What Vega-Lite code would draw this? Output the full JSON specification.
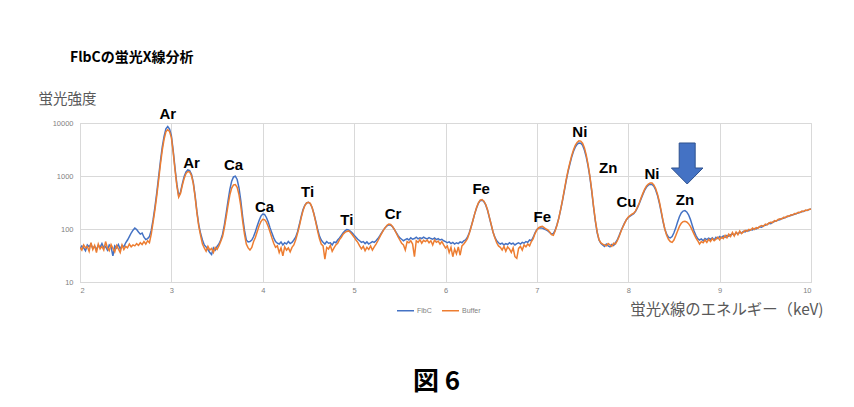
{
"$schema":"https://vega.github.io/schema/vega-lite/v6.json",
"autosize":{"type":"none"},
"padding":{"left":80,"top":123,"right":43,"bottom":125},
"width":731,"height":159,
"background":"white",
"title":{"text":"FlbCの蛍光X線分析","anchor":"start","frame":"group","dx":-10,"offset":26,"font":"Noto Sans CJK JP","fontSize":14,"fontWeight":"bold","color":"#000000"},
"datasets":{
"spec":[
{"e":2.00,"FlbC":42,"Buffer":45},{"e":2.02,"FlbC":48,"Buffer":40},{"e":2.04,"FlbC":44,"Buffer":50},{"e":2.06,"FlbC":39,"Buffer":44},{"e":2.08,"FlbC":50,"Buffer":47},{"e":2.10,"FlbC":46,"Buffer":38},{"e":2.12,"FlbC":52,"Buffer":55},{"e":2.14,"FlbC":43,"Buffer":41},{"e":2.16,"FlbC":47,"Buffer":49},{"e":2.18,"FlbC":41,"Buffer":36},
{"e":2.20,"FlbC":49,"Buffer":52},{"e":2.22,"FlbC":45,"Buffer":42},{"e":2.24,"FlbC":53,"Buffer":47},{"e":2.26,"FlbC":44,"Buffer":40},{"e":2.28,"FlbC":47,"Buffer":58},{"e":2.30,"FlbC":40,"Buffer":44},{"e":2.32,"FlbC":50,"Buffer":39},{"e":2.34,"FlbC":46,"Buffer":51},{"e":2.36,"FlbC":31,"Buffer":43},{"e":2.38,"FlbC":48,"Buffer":37},
{"e":2.40,"FlbC":44,"Buffer":49},{"e":2.42,"FlbC":51,"Buffer":42},{"e":2.44,"FlbC":42,"Buffer":36},{"e":2.46,"FlbC":49,"Buffer":50},{"e":2.48,"FlbC":46,"Buffer":41},{"e":2.50,"FlbC":55,"Buffer":47},{"e":2.52,"FlbC":62,"Buffer":44},{"e":2.54,"FlbC":72,"Buffer":52},{"e":2.56,"FlbC":84,"Buffer":46},{"e":2.58,"FlbC":95,"Buffer":50},
{"e":2.60,"FlbC":104,"Buffer":48},{"e":2.62,"FlbC":98,"Buffer":53},{"e":2.64,"FlbC":88,"Buffer":49},{"e":2.66,"FlbC":80,"Buffer":55},{"e":2.68,"FlbC":84,"Buffer":51},{"e":2.70,"FlbC":70,"Buffer":58},{"e":2.72,"FlbC":63,"Buffer":52},{"e":2.74,"FlbC":66,"Buffer":60},{"e":2.76,"FlbC":72,"Buffer":55},{"e":2.78,"FlbC":95,"Buffer":80},
{"e":2.80,"FlbC":150,"Buffer":135},{"e":2.82,"FlbC":260,"Buffer":230},{"e":2.84,"FlbC":480,"Buffer":420},{"e":2.86,"FlbC":950,"Buffer":830},{"e":2.88,"FlbC":1900,"Buffer":1650},{"e":2.90,"FlbC":3500,"Buffer":3050},{"e":2.92,"FlbC":5600,"Buffer":4900},{"e":2.94,"FlbC":7800,"Buffer":6800},{"e":2.96,"FlbC":8600,"Buffer":7500},{"e":2.98,"FlbC":7700,"Buffer":6900},
{"e":3.00,"FlbC":5800,"Buffer":5300},{"e":3.02,"FlbC":3000,"Buffer":2800},{"e":3.04,"FlbC":1400,"Buffer":1300},{"e":3.06,"FlbC":700,"Buffer":650},{"e":3.08,"FlbC":420,"Buffer":400},{"e":3.10,"FlbC":500,"Buffer":470},{"e":3.12,"FlbC":720,"Buffer":670},{"e":3.14,"FlbC":980,"Buffer":900},{"e":3.16,"FlbC":1200,"Buffer":1110},{"e":3.18,"FlbC":1300,"Buffer":1210},
{"e":3.20,"FlbC":1260,"Buffer":1190},{"e":3.22,"FlbC":1080,"Buffer":1020},{"e":3.24,"FlbC":760,"Buffer":720},{"e":3.26,"FlbC":420,"Buffer":400},{"e":3.28,"FlbC":210,"Buffer":200},{"e":3.30,"FlbC":120,"Buffer":112},{"e":3.32,"FlbC":82,"Buffer":75},{"e":3.34,"FlbC":62,"Buffer":52},{"e":3.36,"FlbC":50,"Buffer":44},{"e":3.38,"FlbC":46,"Buffer":38},
{"e":3.40,"FlbC":41,"Buffer":47},{"e":3.42,"FlbC":36,"Buffer":40},{"e":3.44,"FlbC":33,"Buffer":43},{"e":3.46,"FlbC":44,"Buffer":36},{"e":3.48,"FlbC":40,"Buffer":45},{"e":3.50,"FlbC":47,"Buffer":41},{"e":3.52,"FlbC":52,"Buffer":48},{"e":3.54,"FlbC":62,"Buffer":58},{"e":3.56,"FlbC":80,"Buffer":72},{"e":3.58,"FlbC":120,"Buffer":105},
{"e":3.60,"FlbC":200,"Buffer":170},{"e":3.62,"FlbC":340,"Buffer":280},{"e":3.64,"FlbC":560,"Buffer":440},{"e":3.66,"FlbC":800,"Buffer":590},{"e":3.68,"FlbC":960,"Buffer":680},{"e":3.70,"FlbC":990,"Buffer":690},{"e":3.72,"FlbC":860,"Buffer":610},{"e":3.74,"FlbC":600,"Buffer":440},{"e":3.76,"FlbC":340,"Buffer":270},{"e":3.78,"FlbC":170,"Buffer":140},
{"e":3.80,"FlbC":95,"Buffer":80},{"e":3.82,"FlbC":62,"Buffer":52},{"e":3.84,"FlbC":57,"Buffer":44},{"e":3.86,"FlbC":58,"Buffer":40},{"e":3.88,"FlbC":62,"Buffer":45},{"e":3.90,"FlbC":72,"Buffer":58},{"e":3.92,"FlbC":90,"Buffer":70},{"e":3.94,"FlbC":115,"Buffer":90},{"e":3.96,"FlbC":145,"Buffer":115},{"e":3.98,"FlbC":175,"Buffer":138},
{"e":4.00,"FlbC":192,"Buffer":152},{"e":4.02,"FlbC":188,"Buffer":150},{"e":4.04,"FlbC":165,"Buffer":135},{"e":4.06,"FlbC":135,"Buffer":112},{"e":4.08,"FlbC":105,"Buffer":88},{"e":4.10,"FlbC":84,"Buffer":68},{"e":4.12,"FlbC":68,"Buffer":54},{"e":4.14,"FlbC":58,"Buffer":45},{"e":4.16,"FlbC":54,"Buffer":48},{"e":4.18,"FlbC":52,"Buffer":36},
{"e":4.20,"FlbC":57,"Buffer":44},{"e":4.22,"FlbC":50,"Buffer":31},{"e":4.24,"FlbC":55,"Buffer":46},{"e":4.26,"FlbC":52,"Buffer":40},{"e":4.28,"FlbC":58,"Buffer":44},{"e":4.30,"FlbC":53,"Buffer":37},{"e":4.32,"FlbC":56,"Buffer":45},{"e":4.34,"FlbC":62,"Buffer":50},{"e":4.36,"FlbC":70,"Buffer":62},{"e":4.38,"FlbC":88,"Buffer":82},
{"e":4.40,"FlbC":120,"Buffer":112},{"e":4.42,"FlbC":170,"Buffer":160},{"e":4.44,"FlbC":230,"Buffer":220},{"e":4.46,"FlbC":280,"Buffer":275},{"e":4.48,"FlbC":310,"Buffer":310},{"e":4.50,"FlbC":318,"Buffer":320},{"e":4.52,"FlbC":300,"Buffer":305},{"e":4.54,"FlbC":255,"Buffer":255},{"e":4.56,"FlbC":195,"Buffer":190},{"e":4.58,"FlbC":140,"Buffer":135},
{"e":4.60,"FlbC":100,"Buffer":92},{"e":4.62,"FlbC":74,"Buffer":66},{"e":4.64,"FlbC":62,"Buffer":52},{"e":4.66,"FlbC":56,"Buffer":48},{"e":4.68,"FlbC":52,"Buffer":27},{"e":4.70,"FlbC":58,"Buffer":45},{"e":4.72,"FlbC":54,"Buffer":42},{"e":4.74,"FlbC":55,"Buffer":49},{"e":4.76,"FlbC":50,"Buffer":38},{"e":4.78,"FlbC":57,"Buffer":44},
{"e":4.80,"FlbC":55,"Buffer":50},{"e":4.82,"FlbC":62,"Buffer":54},{"e":4.84,"FlbC":68,"Buffer":63},{"e":4.86,"FlbC":76,"Buffer":70},{"e":4.88,"FlbC":85,"Buffer":80},{"e":4.90,"FlbC":92,"Buffer":86},{"e":4.92,"FlbC":98,"Buffer":90},{"e":4.94,"FlbC":96,"Buffer":92},{"e":4.96,"FlbC":90,"Buffer":86},{"e":4.98,"FlbC":84,"Buffer":78},
{"e":5.00,"FlbC":76,"Buffer":70},{"e":5.02,"FlbC":70,"Buffer":62},{"e":5.04,"FlbC":64,"Buffer":56},{"e":5.06,"FlbC":60,"Buffer":48},{"e":5.08,"FlbC":56,"Buffer":42},{"e":5.10,"FlbC":58,"Buffer":47},{"e":5.12,"FlbC":53,"Buffer":39},{"e":5.14,"FlbC":57,"Buffer":45},{"e":5.16,"FlbC":52,"Buffer":41},{"e":5.18,"FlbC":55,"Buffer":48},
{"e":5.20,"FlbC":58,"Buffer":40},{"e":5.22,"FlbC":56,"Buffer":46},{"e":5.24,"FlbC":60,"Buffer":52},{"e":5.26,"FlbC":66,"Buffer":60},{"e":5.28,"FlbC":74,"Buffer":70},{"e":5.30,"FlbC":84,"Buffer":82},{"e":5.32,"FlbC":95,"Buffer":94},{"e":5.34,"FlbC":106,"Buffer":106},{"e":5.36,"FlbC":115,"Buffer":118},{"e":5.38,"FlbC":120,"Buffer":124},
{"e":5.40,"FlbC":118,"Buffer":122},{"e":5.42,"FlbC":110,"Buffer":112},{"e":5.44,"FlbC":98,"Buffer":98},{"e":5.46,"FlbC":86,"Buffer":84},{"e":5.48,"FlbC":76,"Buffer":72},{"e":5.50,"FlbC":68,"Buffer":62},{"e":5.52,"FlbC":64,"Buffer":54},{"e":5.54,"FlbC":60,"Buffer":50},{"e":5.56,"FlbC":63,"Buffer":40},{"e":5.58,"FlbC":66,"Buffer":58},
{"e":5.60,"FlbC":62,"Buffer":55},{"e":5.62,"FlbC":68,"Buffer":60},{"e":5.64,"FlbC":64,"Buffer":52},{"e":5.66,"FlbC":66,"Buffer":30},{"e":5.68,"FlbC":70,"Buffer":60},{"e":5.70,"FlbC":65,"Buffer":56},{"e":5.72,"FlbC":68,"Buffer":63},{"e":5.74,"FlbC":66,"Buffer":54},{"e":5.76,"FlbC":70,"Buffer":61},{"e":5.78,"FlbC":67,"Buffer":58},
{"e":5.80,"FlbC":65,"Buffer":62},{"e":5.82,"FlbC":69,"Buffer":55},{"e":5.84,"FlbC":66,"Buffer":60},{"e":5.86,"FlbC":64,"Buffer":50},{"e":5.88,"FlbC":68,"Buffer":62},{"e":5.90,"FlbC":63,"Buffer":56},{"e":5.92,"FlbC":66,"Buffer":59},{"e":5.94,"FlbC":62,"Buffer":52},{"e":5.96,"FlbC":64,"Buffer":58},{"e":5.98,"FlbC":60,"Buffer":50},
{"e":6.00,"FlbC":58,"Buffer":44},{"e":6.02,"FlbC":55,"Buffer":48},{"e":6.04,"FlbC":57,"Buffer":36},{"e":6.06,"FlbC":53,"Buffer":45},{"e":6.08,"FlbC":56,"Buffer":30},{"e":6.10,"FlbC":52,"Buffer":42},{"e":6.12,"FlbC":55,"Buffer":34},{"e":6.14,"FlbC":53,"Buffer":46},{"e":6.16,"FlbC":57,"Buffer":32},{"e":6.18,"FlbC":55,"Buffer":48},
{"e":6.20,"FlbC":60,"Buffer":52},{"e":6.22,"FlbC":62,"Buffer":58},{"e":6.24,"FlbC":70,"Buffer":66},{"e":6.26,"FlbC":85,"Buffer":82},{"e":6.28,"FlbC":110,"Buffer":108},{"e":6.30,"FlbC":145,"Buffer":145},{"e":6.32,"FlbC":195,"Buffer":195},{"e":6.34,"FlbC":250,"Buffer":255},{"e":6.36,"FlbC":305,"Buffer":310},{"e":6.38,"FlbC":345,"Buffer":350},
{"e":6.40,"FlbC":350,"Buffer":358},{"e":6.42,"FlbC":330,"Buffer":335},{"e":6.44,"FlbC":285,"Buffer":290},{"e":6.46,"FlbC":225,"Buffer":230},{"e":6.48,"FlbC":165,"Buffer":168},{"e":6.50,"FlbC":120,"Buffer":122},{"e":6.52,"FlbC":88,"Buffer":88},{"e":6.54,"FlbC":70,"Buffer":68},{"e":6.56,"FlbC":60,"Buffer":55},{"e":6.58,"FlbC":55,"Buffer":48},
{"e":6.60,"FlbC":52,"Buffer":45},{"e":6.62,"FlbC":54,"Buffer":40},{"e":6.64,"FlbC":50,"Buffer":47},{"e":6.66,"FlbC":53,"Buffer":38},{"e":6.68,"FlbC":51,"Buffer":46},{"e":6.70,"FlbC":55,"Buffer":42},{"e":6.72,"FlbC":52,"Buffer":36},{"e":6.74,"FlbC":54,"Buffer":44},{"e":6.76,"FlbC":50,"Buffer":30},{"e":6.78,"FlbC":53,"Buffer":28},
{"e":6.80,"FlbC":55,"Buffer":43},{"e":6.82,"FlbC":52,"Buffer":47},{"e":6.84,"FlbC":56,"Buffer":40},{"e":6.86,"FlbC":54,"Buffer":50},{"e":6.88,"FlbC":58,"Buffer":46},{"e":6.90,"FlbC":56,"Buffer":52},{"e":6.92,"FlbC":62,"Buffer":48},{"e":6.94,"FlbC":60,"Buffer":58},{"e":6.96,"FlbC":70,"Buffer":66},{"e":6.98,"FlbC":85,"Buffer":82},
{"e":7.00,"FlbC":98,"Buffer":96},{"e":7.02,"FlbC":104,"Buffer":106},{"e":7.04,"FlbC":106,"Buffer":110},{"e":7.06,"FlbC":104,"Buffer":112},{"e":7.08,"FlbC":100,"Buffer":106},{"e":7.10,"FlbC":96,"Buffer":100},{"e":7.12,"FlbC":92,"Buffer":96},{"e":7.14,"FlbC":86,"Buffer":88},{"e":7.16,"FlbC":80,"Buffer":78},{"e":7.18,"FlbC":82,"Buffer":76},
{"e":7.20,"FlbC":95,"Buffer":92},{"e":7.22,"FlbC":120,"Buffer":118},{"e":7.24,"FlbC":160,"Buffer":160},{"e":7.26,"FlbC":230,"Buffer":235},{"e":7.28,"FlbC":340,"Buffer":350},{"e":7.30,"FlbC":520,"Buffer":540},{"e":7.32,"FlbC":800,"Buffer":840},{"e":7.34,"FlbC":1180,"Buffer":1250},{"e":7.36,"FlbC":1650,"Buffer":1750},{"e":7.38,"FlbC":2250,"Buffer":2400},
{"e":7.40,"FlbC":2900,"Buffer":3100},{"e":7.42,"FlbC":3500,"Buffer":3800},{"e":7.44,"FlbC":3950,"Buffer":4300},{"e":7.46,"FlbC":4200,"Buffer":4600},{"e":7.48,"FlbC":4150,"Buffer":4550},{"e":7.50,"FlbC":3800,"Buffer":4150},{"e":7.52,"FlbC":3100,"Buffer":3400},{"e":7.54,"FlbC":2300,"Buffer":2500},{"e":7.56,"FlbC":1550,"Buffer":1650},{"e":7.58,"FlbC":950,"Buffer":1000},
{"e":7.60,"FlbC":520,"Buffer":550},{"e":7.62,"FlbC":260,"Buffer":270},{"e":7.64,"FlbC":140,"Buffer":145},{"e":7.66,"FlbC":85,"Buffer":88},{"e":7.68,"FlbC":62,"Buffer":63},{"e":7.70,"FlbC":54,"Buffer":55},{"e":7.72,"FlbC":50,"Buffer":52},{"e":7.74,"FlbC":47,"Buffer":50},{"e":7.76,"FlbC":52,"Buffer":48},{"e":7.78,"FlbC":48,"Buffer":53},
{"e":7.80,"FlbC":46,"Buffer":50},{"e":7.82,"FlbC":51,"Buffer":47},{"e":7.84,"FlbC":49,"Buffer":54},{"e":7.86,"FlbC":55,"Buffer":52},{"e":7.88,"FlbC":62,"Buffer":60},{"e":7.90,"FlbC":75,"Buffer":72},{"e":7.92,"FlbC":92,"Buffer":90},{"e":7.94,"FlbC":110,"Buffer":108},{"e":7.96,"FlbC":130,"Buffer":128},{"e":7.98,"FlbC":150,"Buffer":150},
{"e":8.00,"FlbC":165,"Buffer":168},{"e":8.02,"FlbC":175,"Buffer":180},{"e":8.04,"FlbC":185,"Buffer":190},{"e":8.06,"FlbC":195,"Buffer":198},{"e":8.08,"FlbC":215,"Buffer":220},{"e":8.10,"FlbC":250,"Buffer":258},{"e":8.12,"FlbC":300,"Buffer":310},{"e":8.14,"FlbC":370,"Buffer":385},{"e":8.16,"FlbC":450,"Buffer":470},{"e":8.18,"FlbC":540,"Buffer":565},
{"e":8.20,"FlbC":620,"Buffer":650},{"e":8.22,"FlbC":670,"Buffer":705},{"e":8.24,"FlbC":700,"Buffer":740},{"e":8.26,"FlbC":690,"Buffer":735},{"e":8.28,"FlbC":640,"Buffer":680},{"e":8.30,"FlbC":545,"Buffer":580},{"e":8.32,"FlbC":430,"Buffer":455},{"e":8.34,"FlbC":310,"Buffer":330},{"e":8.36,"FlbC":210,"Buffer":222},{"e":8.38,"FlbC":140,"Buffer":145},
{"e":8.40,"FlbC":100,"Buffer":100},{"e":8.42,"FlbC":80,"Buffer":76},{"e":8.44,"FlbC":70,"Buffer":64},{"e":8.46,"FlbC":68,"Buffer":58},{"e":8.48,"FlbC":72,"Buffer":56},{"e":8.50,"FlbC":85,"Buffer":62},{"e":8.52,"FlbC":105,"Buffer":75},{"e":8.54,"FlbC":135,"Buffer":92},{"e":8.56,"FlbC":170,"Buffer":112},{"e":8.58,"FlbC":200,"Buffer":128},
{"e":8.60,"FlbC":218,"Buffer":138},{"e":8.62,"FlbC":222,"Buffer":140},{"e":8.64,"FlbC":210,"Buffer":136},{"e":8.66,"FlbC":185,"Buffer":126},{"e":8.68,"FlbC":152,"Buffer":112},{"e":8.70,"FlbC":118,"Buffer":95},{"e":8.72,"FlbC":92,"Buffer":80},{"e":8.74,"FlbC":76,"Buffer":68},{"e":8.76,"FlbC":66,"Buffer":60},{"e":8.78,"FlbC":62,"Buffer":52},
{"e":8.80,"FlbC":65,"Buffer":58},{"e":8.82,"FlbC":60,"Buffer":55},{"e":8.84,"FlbC":66,"Buffer":62},{"e":8.86,"FlbC":63,"Buffer":56},{"e":8.88,"FlbC":67,"Buffer":64},{"e":8.90,"FlbC":64,"Buffer":58},{"e":8.92,"FlbC":68,"Buffer":66},{"e":8.94,"FlbC":62,"Buffer":60},{"e":8.96,"FlbC":70,"Buffer":64},{"e":8.98,"FlbC":66,"Buffer":70},
{"e":9.00,"FlbC":72,"Buffer":62},{"e":9.02,"FlbC":68,"Buffer":70},{"e":9.04,"FlbC":74,"Buffer":66},{"e":9.06,"FlbC":70,"Buffer":76},{"e":9.08,"FlbC":76,"Buffer":68},{"e":9.10,"FlbC":73,"Buffer":80},{"e":9.12,"FlbC":78,"Buffer":72},{"e":9.14,"FlbC":80,"Buffer":86},{"e":9.16,"FlbC":77,"Buffer":74},{"e":9.18,"FlbC":84,"Buffer":88},
{"e":9.20,"FlbC":82,"Buffer":78},{"e":9.22,"FlbC":86,"Buffer":92},{"e":9.24,"FlbC":84,"Buffer":82},{"e":9.26,"FlbC":90,"Buffer":88},{"e":9.28,"FlbC":88,"Buffer":94},{"e":9.30,"FlbC":94,"Buffer":90},{"e":9.32,"FlbC":92,"Buffer":98},{"e":9.34,"FlbC":98,"Buffer":95},{"e":9.36,"FlbC":96,"Buffer":104},{"e":9.38,"FlbC":102,"Buffer":98},
{"e":9.40,"FlbC":100,"Buffer":106},{"e":9.42,"FlbC":106,"Buffer":104},{"e":9.44,"FlbC":110,"Buffer":112},{"e":9.46,"FlbC":108,"Buffer":116},{"e":9.48,"FlbC":116,"Buffer":112},{"e":9.50,"FlbC":118,"Buffer":124},{"e":9.52,"FlbC":122,"Buffer":120},{"e":9.54,"FlbC":128,"Buffer":130},{"e":9.56,"FlbC":126,"Buffer":134},{"e":9.58,"FlbC":134,"Buffer":132},
{"e":9.60,"FlbC":138,"Buffer":144},{"e":9.62,"FlbC":142,"Buffer":140},{"e":9.64,"FlbC":148,"Buffer":152},{"e":9.66,"FlbC":150,"Buffer":156},{"e":9.68,"FlbC":158,"Buffer":154},{"e":9.70,"FlbC":160,"Buffer":166},{"e":9.72,"FlbC":166,"Buffer":164},{"e":9.74,"FlbC":170,"Buffer":176},{"e":9.76,"FlbC":176,"Buffer":174},{"e":9.78,"FlbC":180,"Buffer":186},
{"e":9.80,"FlbC":186,"Buffer":184},{"e":9.82,"FlbC":190,"Buffer":196},{"e":9.84,"FlbC":196,"Buffer":194},{"e":9.86,"FlbC":200,"Buffer":206},{"e":9.88,"FlbC":206,"Buffer":204},{"e":9.90,"FlbC":212,"Buffer":218},{"e":9.92,"FlbC":216,"Buffer":214},{"e":9.94,"FlbC":222,"Buffer":228},{"e":9.96,"FlbC":226,"Buffer":224},{"e":9.98,"FlbC":232,"Buffer":236},
{"e":10.00,"FlbC":238,"Buffer":235}
],
"labels":[
{"e":2.96,"v":14800,"t":"Ar"},{"e":3.22,"v":1758,"t":"Ar"},{"e":3.68,"v":1600,"t":"Ca"},{"e":4.02,"v":263,"t":"Ca"},{"e":4.49,"v":503,"t":"Ti"},{"e":4.92,"v":145,"t":"Ti"},{"e":5.425,"v":196,"t":"Cr"},{"e":6.39,"v":562,"t":"Fe"},{"e":7.06,"v":170,"t":"Fe"},{"e":7.47,"v":6820,"t":"Ni"},{"e":7.78,"v":1410,"t":"Zn"},{"e":7.98,"v":326,"t":"Cu"},{"e":8.26,"v":1114,"t":"Ni"},{"e":8.62,"v":352,"t":"Zn"}
],
"arrow":[{"e":8.645,"v":1722}]
},
"layer":[
{
"data":{"name":"spec"},
"transform":[{"fold":["FlbC","Buffer"],"as":["series","v"]}],
"mark":{"type":"line","strokeWidth":1.5,"clip":true},
"encoding":{
"x":{"field":"e","type":"quantitative","scale":{"domain":[2,10],"nice":false},
"axis":{"title":"蛍光X線のエネルギー（keV)","values":[2,3,4,5,6,7,8,9,10],"format":"d","labelFont":"Liberation Sans","labelFontSize":7.5,"labelColor":"#7F7F7F","labelPadding":4,"ticks":false,"domainColor":"#D9D9D9","gridColor":"#D9D9D9","titleFont":"Noto Sans CJK JP","titleFontSize":15.4,"titleFontWeight":"normal","titleColor":"#595959","titleAnchor":"end","titleAlign":"right","titleBaseline":"middle","titleX":743,"titleY":27}},
"y":{"field":"v","type":"quantitative","scale":{"type":"log","domain":[10,10000],"nice":false},
"axis":{"title":"蛍光強度","orient":"left","values":[10,100,1000,10000],"format":"d","labelFont":"Liberation Sans","labelFontSize":7.5,"labelColor":"#7F7F7F","labelPadding":7,"ticks":false,"domainColor":"#D9D9D9","gridColor":"#D9D9D9","titleFont":"Noto Sans CJK JP","titleFontSize":14.5,"titleFontWeight":"normal","titleColor":"#595959","titleAngle":0,"titleAlign":"left","titleBaseline":"middle","titleX":-42,"titleY":-24}},
"color":{"field":"series","type":"nominal","scale":{"domain":["FlbC","Buffer"],"range":["#4472C4","#ED7D31"]},
"legend":{"title":null,"orient":"none","legendX":316,"legendY":178,"direction":"horizontal","symbolType":"stroke","symbolSize":289,"symbolStrokeWidth":1.5,"labelFont":"Liberation Sans","labelFontSize":7,"labelColor":"#7F7F7F","labelOffset":2,"columnPadding":7,"padding":0}}
}
},
{
"data":{"name":"labels"},
"mark":{"type":"text","font":"Liberation Sans","fontSize":15,"fontWeight":"bold","color":"#000000","align":"center","baseline":"middle","clip":false},
"encoding":{
"x":{"field":"e","type":"quantitative"},
"y":{"field":"v","type":"quantitative","axis":{"title":"図 6","orient":"right","domain":false,"ticks":false,"labels":false,"grid":false,"titleFont":"Noto Sans CJK JP","titleFontSize":26,"titleFontWeight":"bold","titleColor":"#000000","titleAngle":0,"titleAlign":"center","titleBaseline":"middle","titleX":-375,"titleY":258}},
"text":{"field":"t","type":"nominal"}
}
},
{
"data":{"name":"arrow"},
"mark":{"type":"point","shape":"M -0.39 -1 L 0.39 -1 L 0.39 0.22 L 0.77 0.22 L 0 1 L -0.77 0.22 L -0.39 0.22 Z","size":1681,"filled":true,"fill":"#4472C4","stroke":"#2F528F","strokeWidth":1,"opacity":1,"clip":false},
"encoding":{
"x":{"field":"e","type":"quantitative"},
"y":{"field":"v","type":"quantitative","axis":null}
}
}
],
"resolve":{"axis":{"y":"independent"}}
}
